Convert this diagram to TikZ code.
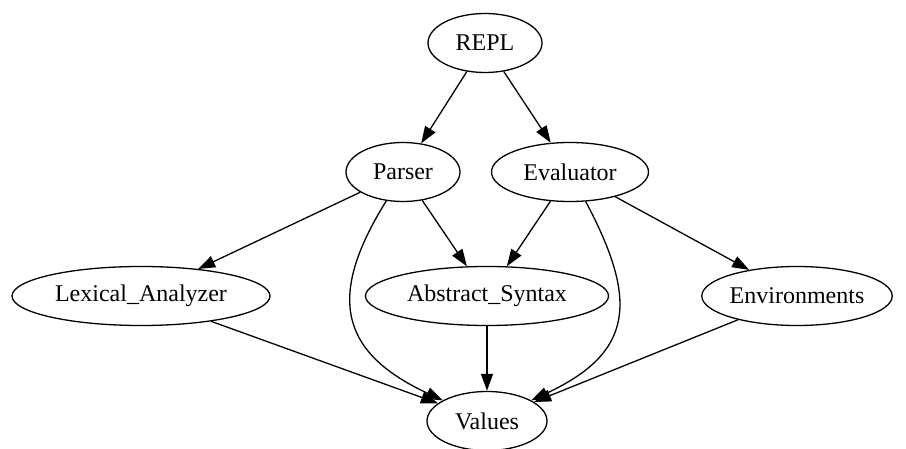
\documentclass[tikz,border=0pt]{standalone}
\usepackage{fontspec}
\setmainfont{Liberation Serif}
\usepackage{tikz}
\usetikzlibrary{arrows.meta, shapes.geometric}

\begin{document}
\begin{tikzpicture}[x=1pt, y=-1pt,
    modnode/.style={ellipse, draw=black, line width=1.3pt, inner sep=0pt, minimum height=59pt,
      font=\fontsize{24}{28}\selectfont},
    dep/.style={line width=1.3pt, -{Triangle[length=17pt, width=12pt]}}]
      \useasboundingbox (0, 0) rectangle (906, 449);

      \node[modnode, minimum width=114pt] (repl) at (485, 43) {REPL};
      \node[modnode, minimum width=114pt] (parser) at (403, 172) {Parser};
      \node[modnode, minimum width=157pt] (eval) at (570, 172) {Evaluator};
      \node[modnode, minimum width=258pt] (lex) at (141, 296) {Lexical\_Analyzer};
      \node[modnode, minimum width=243pt] (ast) at (487, 296) {Abstract\_Syntax};
      \node[modnode, minimum width=183pt] (env) at (797, 296) {Environments};
      \node[modnode, minimum width=120pt] (vals) at (487, 421) {Values};

      \draw[dep] (repl) -- (parser);
      \draw[dep] (repl) -- (eval);
      \draw[dep] (parser) -- (lex);
      \draw[dep] (parser) -- (ast);
      \draw[dep] (eval) -- (ast);
      \draw[dep] (eval) -- (env);
      \draw[dep] (lex) -- (vals);
      \draw[dep] (ast) -- (vals);
      \draw[dep] (env) -- (vals);

      % the two long edges bend round Abstract_Syntax
      \draw[dep] (parser.240) to[out=238, in=155, looseness=1.4] (vals.155);
      \draw[dep] (eval.-62) to[out=-62, in=25, looseness=1.4] (vals.25);

    \end{tikzpicture}
\end{document}
